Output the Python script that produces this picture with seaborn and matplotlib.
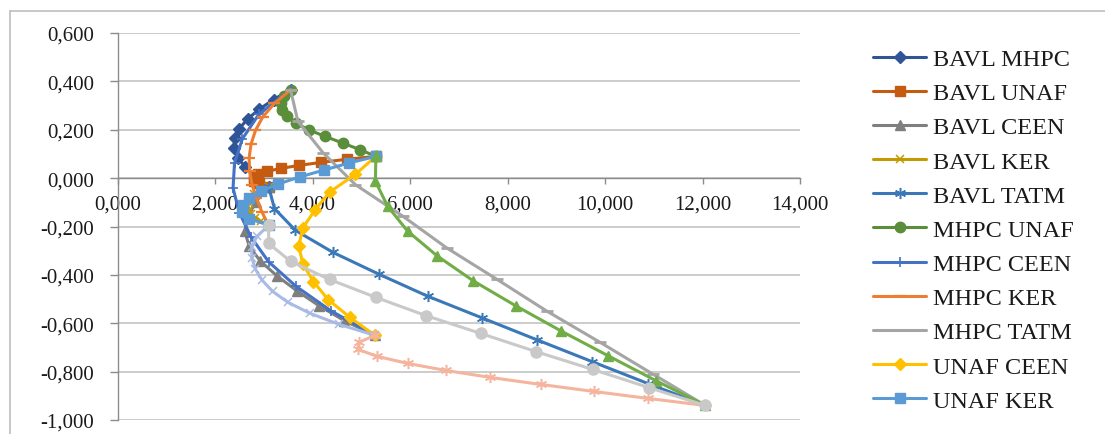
import numpy as np
import pandas as pd
import matplotlib
matplotlib.use("Agg")
import matplotlib.pyplot as plt
import seaborn as sns
from matplotlib.lines import Line2D
from matplotlib.ticker import FuncFormatter
from matplotlib.font_manager import FontProperties

# ---------------- data (risk on x, return on y), 11 portfolios per pair ----------------
series_names = ["BAVL MHPC", "BAVL UNAF", "BAVL CEEN", "BAVL KER", "BAVL TATM",
                "MHPC UNAF", "MHPC CEEN", "MHPC KER", "MHPC TATM", "UNAF CEEN",
                "UNAF KER", "UNAF TATM", "CEEN KER", "CEEN TATM", "KER TATM"]

bavl_mhpc_x = [3.10, 2.83, 2.62, 2.47, 2.39, 2.40, 2.50, 2.67, 2.91, 3.20, 3.55]
bavl_mhpc_y = [-0.035, 0.005, 0.045, 0.085, 0.125, 0.165, 0.205, 0.245, 0.285, 0.325, 0.365]

bavl_unaf_x = [3.10, 2.90, 2.80, 2.79, 2.88, 3.06, 3.35, 3.73, 4.18, 4.70, 5.30]
bavl_unaf_y = [-0.035, -0.022, -0.010, 0.003, 0.015, 0.028, 0.040, 0.053, 0.065, 0.078, 0.090]

bavl_ceen_x = [3.10, 2.84, 2.68, 2.61, 2.70, 2.93, 3.27, 3.68, 4.13, 4.65, 5.28]
bavl_ceen_y = [-0.035, -0.097, -0.158, -0.220, -0.281, -0.343, -0.404, -0.466, -0.527, -0.589, -0.650]

bavl_ker_x = [3.10, 2.93, 2.81, 2.73, 2.68, 2.67, 2.69, 2.74, 2.82, 2.94, 3.10]
bavl_ker_y = [-0.035, -0.051, -0.067, -0.083, -0.099, -0.115, -0.131, -0.147, -0.163, -0.179, -0.195]

bavl_tatm_x = [3.10, 3.22, 3.65, 4.42, 5.36, 6.36, 7.48, 8.61, 9.74, 10.89, 12.06]
bavl_tatm_y = [-0.035, -0.126, -0.216, -0.307, -0.397, -0.488, -0.578, -0.669, -0.759, -0.850, -0.940]

mhpc_unaf_x = [3.55, 3.42, 3.36, 3.38, 3.48, 3.66, 3.92, 4.25, 4.62, 4.97, 5.30]
mhpc_unaf_y = [0.365, 0.338, 0.310, 0.283, 0.255, 0.228, 0.200, 0.173, 0.145, 0.118, 0.090]

mhpc_ceen_x = [3.55, 2.90, 2.56, 2.40, 2.37, 2.50, 2.74, 3.10, 3.66, 4.38, 5.28]
mhpc_ceen_y = [0.365, 0.264, 0.162, 0.061, -0.041, -0.143, -0.244, -0.346, -0.447, -0.549, -0.650]

mhpc_ker_x = [3.55, 3.22, 2.98, 2.83, 2.74, 2.70, 2.71, 2.76, 2.85, 2.96, 3.10]
mhpc_ker_y = [0.365, 0.309, 0.253, 0.197, 0.141, 0.085, 0.029, -0.027, -0.083, -0.139, -0.195]

mhpc_tatm_x = [3.55, 3.70, 4.22, 4.88, 5.85, 6.75, 7.78, 8.80, 9.90, 10.98, 12.06]
mhpc_tatm_y = [0.365, 0.235, 0.104, -0.027, -0.157, -0.288, -0.418, -0.549, -0.679, -0.810, -0.940]

unaf_ceen_x = [5.30, 4.88, 4.35, 4.05, 3.80, 3.72, 3.80, 4.02, 4.32, 4.77, 5.28]
unaf_ceen_y = [0.090, 0.016, -0.058, -0.132, -0.206, -0.280, -0.354, -0.428, -0.502, -0.576, -0.650]

unaf_ker_x = [5.30, 4.74, 4.23, 3.74, 3.30, 2.95, 2.70, 2.58, 2.56, 2.70, 3.10]
unaf_ker_y = [0.090, 0.062, 0.033, 0.005, -0.024, -0.053, -0.081, -0.110, -0.138, -0.167, -0.195]

unaf_tatm_x = [5.30, 5.29, 5.54, 5.95, 6.56, 7.30, 8.17, 9.09, 10.06, 11.04, 12.06]
unaf_tatm_y = [0.090, -0.013, -0.116, -0.219, -0.322, -0.425, -0.528, -0.631, -0.734, -0.837, -0.940]

ceen_ker_x = [5.28, 4.55, 3.95, 3.50, 3.18, 2.97, 2.83, 2.76, 2.75, 2.86, 3.10]
ceen_ker_y = [-0.650, -0.605, -0.559, -0.514, -0.468, -0.423, -0.377, -0.332, -0.286, -0.241, -0.195]

ceen_tatm_x = [5.28, 4.95, 4.93, 5.33, 5.95, 6.73, 7.65, 8.68, 9.77, 10.89, 12.06]
ceen_tatm_y = [-0.650, -0.679, -0.708, -0.737, -0.766, -0.795, -0.824, -0.853, -0.882, -0.911, -0.940]

ker_tatm_x = [3.10, 3.10, 3.55, 4.35, 5.30, 6.32, 7.45, 8.58, 9.75, 10.90, 12.06]
ker_tatm_y = [-0.195, -0.270, -0.344, -0.419, -0.493, -0.568, -0.642, -0.717, -0.791, -0.866, -0.940]

x_ticks = [0, 2, 4, 6, 8, 10, 12, 14]
y_ticks = [-1.0, -0.8, -0.6, -0.4, -0.2, 0.0, 0.2, 0.4, 0.6]

# ---------------- styles ----------------
xs_all = [bavl_mhpc_x, bavl_unaf_x, bavl_ceen_x, bavl_ker_x, bavl_tatm_x, mhpc_unaf_x,
          mhpc_ceen_x, mhpc_ker_x, mhpc_tatm_x, unaf_ceen_x, unaf_ker_x, unaf_tatm_x,
          ceen_ker_x, ceen_tatm_x, ker_tatm_x]
ys_all = [bavl_mhpc_y, bavl_unaf_y, bavl_ceen_y, bavl_ker_y, bavl_tatm_y, mhpc_unaf_y,
          mhpc_ceen_y, mhpc_ker_y, mhpc_tatm_y, unaf_ceen_y, unaf_ker_y, unaf_tatm_y,
          ceen_ker_y, ceen_tatm_y, ker_tatm_y]

colors = ["#2F5597", "#C55A11", "#7F7F7F", "#C49A00", "#3A78B8", "#5A8E3A",
          "#4472C4", "#ED7D31", "#A5A5A5", "#FFC000", "#5B9BD5", "#70AD47",
          "#A9BBE5", "#F4B49E", "#C9C9C9"]
asterisk = (6, 2, 0)
markers = ["D", "s", "^", "x", asterisk, "o", "+", "_", "_", "D", "s", "^", "x", asterisk, "o"]
msizes = [6, 7, 7, 6, 8, 7.5, 7, 8, 8, 6, 7, 7.5, 6, 8, 8]
mews = [1, 1, 1, 1.1, 1.1, 1, 1.2, 1.6, 2.0, 1, 1, 1, 1.1, 1.1, 1]

sns.set_theme(style="white")
plt.rcParams["font.family"] = ["Liberation Serif", "DejaVu Serif"]

W, H = 1105, 435
fig = plt.figure(figsize=(W / 100, H / 100), dpi=100)
ax = fig.add_axes([117.5 / W, 1 - 421 / H, (800 - 117.5) / W, (421 - 34) / H])

for xs, ys, col, mk, ms, mw in zip(xs_all, ys_all, colors, markers, msizes, mews):
    df = pd.DataFrame({"risk": xs, "ret": ys})
    sns.lineplot(data=df, x="risk", y="ret", sort=False, estimator=None, ax=ax,
                 color=col, linewidth=2.2, marker=mk, markersize=ms,
                 markeredgecolor=col, markerfacecolor=col, markeredgewidth=mw,
                 legend=False)

ax.set_xlim(0, 14)
ax.set_ylim(-1.0, 0.6)
ax.set_xticks(x_ticks)
ax.set_yticks(y_ticks)
fmt = FuncFormatter(lambda v, p: f"{v:.3f}".replace(".", ",").replace("-0,000", "0,000"))
ax.xaxis.set_major_formatter(fmt)
ax.yaxis.set_major_formatter(fmt)
ax.set_xlabel("")
ax.set_ylabel("")

ax.grid(axis="y", color="#C4C4C4", linewidth=1.2)
ax.grid(axis="x", visible=False)
ax.set_axisbelow(True)

for s in ["top", "right"]:
    ax.spines[s].set_visible(False)
ax.spines["bottom"].set_position(("data", 0))
for s in ["bottom", "left"]:
    ax.spines[s].set_color("#8C8C8C")
    ax.spines[s].set_linewidth(1.0)
    ax.spines[s].set_zorder(0.6)

ax.tick_params(axis="x", direction="out", length=4.5, width=1, color="#8C8C8C",
               pad=7, labelsize=15, bottom=True)
ax.tick_params(axis="y", direction="out", length=6, width=1, color="#8C8C8C",
               pad=11, labelsize=15, left=True)
for lab in ax.get_xticklabels() + ax.get_yticklabels():
    lab.set_color("#1A1A1A")

# legend (only the first 11 entries fit)
handles = [Line2D([0], [0], color=colors[i], lw=2.2, marker=markers[i], markersize=msizes[i],
                  markeredgecolor=colors[i], markerfacecolor=colors[i], markeredgewidth=mews[i])
           for i in range(11)]
fig.legend(handles, series_names[:11], loc="upper left",
           bbox_to_anchor=(873 / W, 1 - 49 / H), frameon=False,
           prop=FontProperties(family="Liberation Serif", size=17.5),
           handlelength=2.2, handletextpad=0.25, labelspacing=0.5,
           borderpad=0, borderaxespad=0, labelcolor="#1A1A1A")

# chart-area border
fig.add_artist(Line2D([10 / W, 10 / W], [0, 1 - 12 / H], transform=fig.transFigure,
                      color="#BFBFBF", lw=1.2))
fig.add_artist(Line2D([10 / W, 1], [1 - 12 / H, 1 - 12 / H], transform=fig.transFigure,
                      color="#BFBFBF", lw=1.2))

fig.savefig("out.png", dpi=100)
